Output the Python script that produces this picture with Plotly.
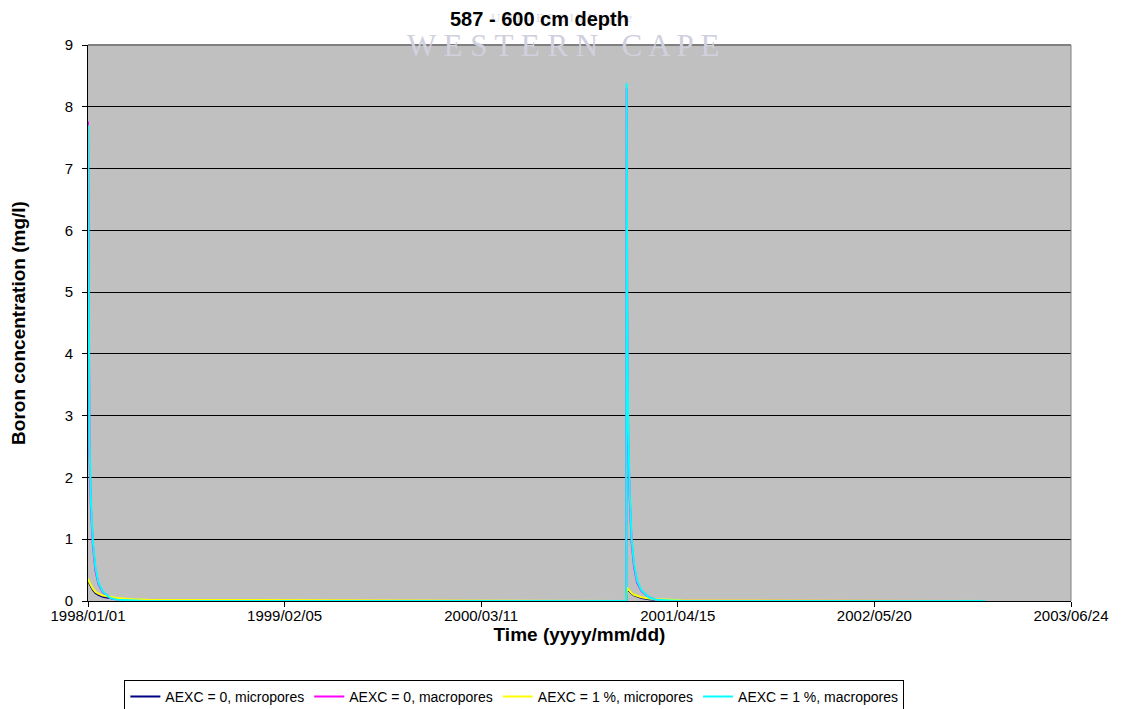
import plotly.graph_objects as go

dates = ["1998-01-01", "1998-01-02", "1998-01-04", "1998-01-07", "1998-01-11", "1998-01-16",
         "1998-01-22", "1998-01-31", "1998-02-15", "1998-03-01", "1998-04-01", "1998-05-01",
         "2000-12-31",
         "2001-01-01", "2001-01-02", "2001-01-04", "2001-01-07", "2001-01-11", "2001-01-16",
         "2001-01-22", "2001-01-31", "2001-02-15", "2001-03-01", "2001-04-01", "2001-05-01",
         "2002-12-31"]

aexc0_micro = [0.30, 0.31, 0.28, 0.23, 0.18, 0.13, 0.10, 0.07, 0.05, 0.03, 0.01, 0.0,
               0.0,
               0.19, 0.20, 0.18, 0.15, 0.12, 0.09, 0.07, 0.05, 0.03, 0.02, 0.0, 0.0,
               0.0]
aexc0_macro = [7.76, 4.30, 2.40, 1.50, 0.90, 0.50, 0.28, 0.14, 0.05, 0.02, 0.01, 0.005,
               0.0,
               8.30, 4.70, 2.70, 1.70, 0.95, 0.55, 0.30, 0.16, 0.06, 0.02, 0.01, 0.005,
               0.0]
aexc1_micro = [0.33, 0.34, 0.30, 0.25, 0.20, 0.15, 0.12, 0.09, 0.07, 0.05, 0.03, 0.02,
               0.0,
               0.21, 0.22, 0.19, 0.16, 0.13, 0.10, 0.08, 0.06, 0.04, 0.03, 0.02, 0.01,
               0.0]
aexc1_macro = [7.70, 4.60, 2.60, 1.60, 0.95, 0.55, 0.30, 0.15, 0.05, 0.02, 0.01, 0.0,
               0.0,
               8.38, 5.00, 2.90, 1.80, 1.00, 0.60, 0.33, 0.17, 0.06, 0.02, 0.01, 0.0,
               0.0]

series_names = ["AEXC = 0, micropores", "AEXC = 0, macropores",
                "AEXC = 1 %, micropores", "AEXC = 1 %, macropores"]
series_vals = [aexc0_micro, aexc0_macro, aexc1_micro, aexc1_macro]
series_colors = ["#000080", "#FF00FF", "#FFFF00", "#00FFFF"]

tick_vals = ["1998-01-01", "1999-02-05", "2000-03-11", "2001-04-15", "2002-05-20", "2003-06-24"]
tick_text = ["1998/01/01", "1999/02/05", "2000/03/11", "2001/04/15", "2002/05/20", "2003/06/24"]

fig = go.Figure()
for name, vals, col in zip(series_names, series_vals, series_colors):
    fig.add_trace(go.Scatter(x=dates, y=vals, mode="lines", name=name,
                             line=dict(color=col, width=2)))

font_family = "Liberation Sans, Arial, sans-serif"

# page body has an 8px default margin, so the figure is 8px smaller and offset
fig.update_layout(
    width=1116, height=701,
    margin=dict(l=80, r=53, t=37, b=108, autoexpand=False),
    paper_bgcolor="white",
    plot_bgcolor="#C0C0C0",
    font=dict(family=font_family, size=15, color="black"),
    showlegend=True,
    legend=dict(orientation="h", x=0.037, xanchor="left", y=-0.142, yanchor="top",
                bordercolor="black", borderwidth=1, bgcolor="white",
                font=dict(size=14), itemwidth=30, tracegroupgap=0),
    xaxis=dict(
        type="date", automargin=False,
        range=["1998-01-01", "2003-06-24"],
        tickvals=tick_vals, ticktext=tick_text,
        ticks="outside", ticklen=5, tickcolor="black",
        ticklabelstandoff=-4,
        showgrid=False, showline=True, linecolor="black", linewidth=1,
        mirror=False, zeroline=False,
        title=dict(text="<b>Time (yyyy/mm/dd)</b>", font=dict(size=19), standoff=0),
    ),
    yaxis=dict(
        range=[0, 9], dtick=1, automargin=False,
        ticks="outside", ticklen=5, tickcolor="black",
        ticklabelstandoff=6,
        showgrid=True, gridcolor="black", gridwidth=1,
        showline=True, linecolor="black", linewidth=1, zeroline=False,
        title=dict(text="<b>Boron concentration (mg/l)</b>", font=dict(size=19), standoff=34),
    ),
)

# plot frame (top and right in grey)
fig.add_shape(type="line", xref="paper", yref="paper", x0=0, x1=1, y0=1, y1=1,
              line=dict(color="#808080", width=2), layer="above")
fig.add_shape(type="line", xref="paper", yref="paper", x0=1, x1=1, y0=0, y1=1,
              line=dict(color="#808080", width=1), layer="above")

# faint scanned watermark
fig.add_annotation(text="U N I V E R S I T Y  <i>of the</i>", xref="paper", yref="paper",
                   x=0.482, y=1.066, yanchor="top", showarrow=False,
                   font=dict(family="Liberation Serif, serif", size=13, color="#DCDCE6"))
fig.add_annotation(text="W E S T E R N   C A P E", xref="paper", yref="paper",
                   x=0.483, y=1.0, yanchor="middle", showarrow=False,
                   font=dict(family="Liberation Serif, serif", size=31, color="#D0D0DE"))

fig.add_annotation(text="<b>587 - 600 cm depth</b>", xref="paper", yref="paper",
                   x=0.459, y=1.047, yanchor="middle", showarrow=False,
                   font=dict(size=20, color="black"))

fig.write_html("out.html")
